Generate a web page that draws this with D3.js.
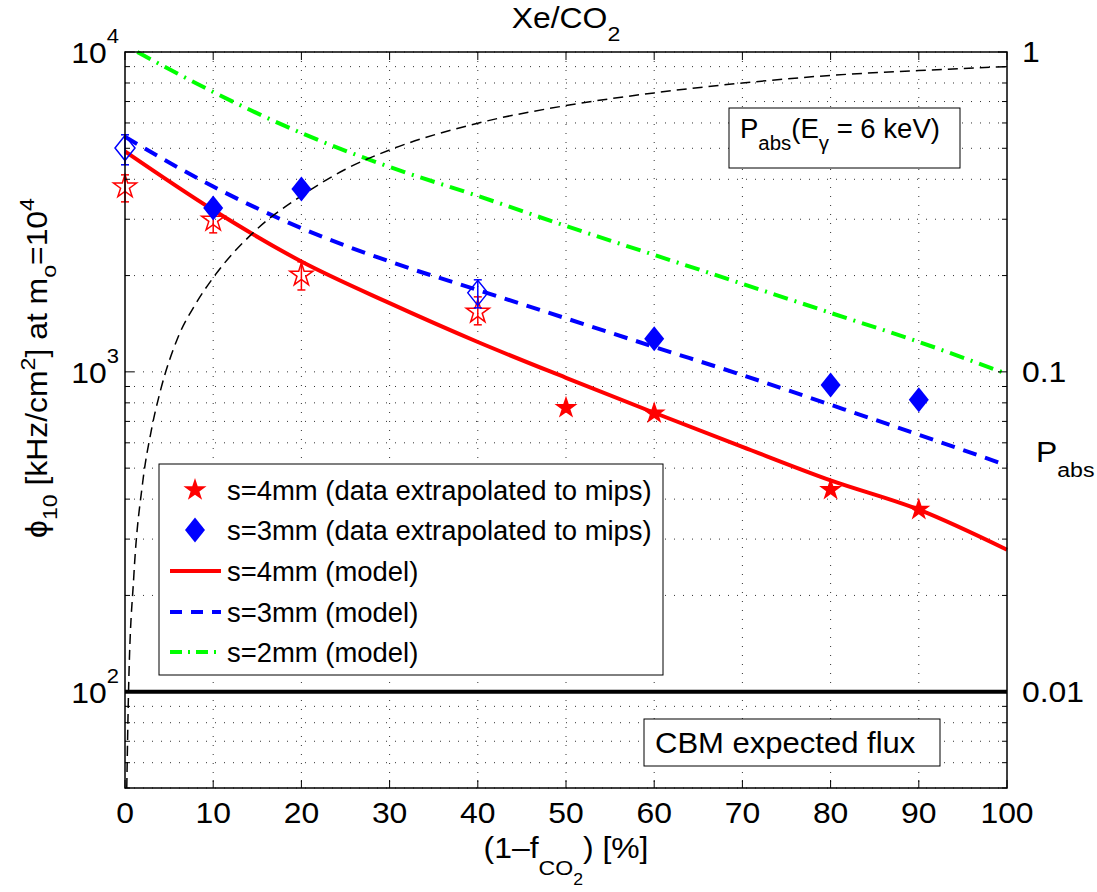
<!DOCTYPE html>
<html>
<head>
<meta charset="utf-8">
<script src="https://cdn.jsdelivr.net/npm/d3@7"></script>
<style>
  body { margin: 0; background: #fff; }
  text { font-family: "Liberation Sans", Arial, Helvetica, sans-serif; fill: #000; }
</style>
</head>
<body>
<svg id="chart" width="1097" height="892"></svg>
<script>
// ---- data ----
var xTicks = [0, 10, 20, 30, 40, 50, 60, 70, 80, 90, 100];
var yMajor = [100, 1000, 10000];
var pMajor = [0.01, 0.1, 1];

// model curves, x in % of Xe
var modelX = [0, 10, 20, 30, 40, 50, 60, 70, 80, 90, 100];
var model4mm = [4890, 3206, 2213, 1640, 1240, 958, 745, 583, 458, 371, 278];
var model3mm = [5430, 3795, 2813, 2213, 1803, 1470, 1197, 977, 789, 636, 510];
var model2X = [1.4, 10, 20, 30, 40, 50, 60, 70, 80, 90, 100];
var model2mm = [10000, 7500, 5580, 4370, 3548, 2858, 2321, 1885, 1529, 1241, 985];

// absorption probability for 6 keV photons (right axis)
var pabsX = [0.2, 0.4, 1, 2, 3, 4, 6, 8, 10, 15, 20, 25, 30, 40, 50, 60, 70, 80, 90, 100];
var pabsY = [0.005, 0.01, 0.023, 0.045, 0.066, 0.087, 0.128, 0.163, 0.197, 0.28, 0.355, 0.43, 0.494, 0.599, 0.68, 0.745, 0.80, 0.845, 0.875, 0.90];

// CBM expected flux
var cbmFlux = 100;

// s=4mm data (filled stars) and measured points with error bars (open stars)
var star4X = [50, 60, 80, 90];
var star4Y = [772, 742, 428, 371];
var open4X = [0, 10, 20, 40];
var open4Y = [3790, 2985, 2010, 1540];
var open4Lo = [3400, 2720, 1803, 1403];
var open4Hi = [4130, 3304, 2208, 1716];

// s=3mm data (filled diamonds) and measured points (open diamonds)
var dia3X = [10, 20, 60, 80, 90];
var dia3Y = [3254, 3733, 1268, 910, 818];
var open3X = [0, 40];
var open3Y = [5010, 1766];
var open3Lo = [4440, 1585];
var open3Hi = [5510, 1940];

var legendLabels = [
  "s=4mm (data extrapolated to mips)",
  "s=3mm (data extrapolated to mips)",
  "s=4mm (model)",
  "s=3mm (model)",
  "s=2mm (model)"
];

// ---- layout ----
var pLeft = 125, pRight = 1007, pTop = 52, pBottom = 788;
var svg = d3.select("#chart");

var x = d3.scaleLinear().domain([0, 100]).range([pLeft, pRight]);
var y = d3.scaleLog().domain([50, 10000]).range([pBottom, pTop]);
var yR = d3.scaleLog().domain([0.005, 1]).range([pBottom, pTop]);

var RED = "#ff0000", BLUE = "#0000ff", GREEN = "#00ff00";
var FS = 29, SX = 1.1;   // axis text size and horizontal stretch

// every log grid value inside the domain
var yAll = [];
[10, 100, 1000].forEach(function(dec) {
  for (var k = 1; k < 10; k++) {
    var v = dec * k;
    if (v >= 50 && v <= 10000) yAll.push(v);
  }
});
yAll.push(10000);

// text helper: places text at (px,py) stretched horizontally
function label(parent, px, py, anchor, size, sx, rot) {
  var tr = "translate(" + px + "," + py + ")" + (rot ? " rotate(" + rot + ")" : "") + " scale(" + sx + ",1)";
  return parent.append("text").attr("transform", tr)
    .attr("text-anchor", anchor).attr("font-size", size);
}

// ---- grid ----
var grid = svg.append("g");
grid.selectAll(".hg").data(yAll).enter().append("line")
  .attr("x1", pLeft).attr("x2", pRight)
  .attr("y1", function(d) { return y(d); })
  .attr("y2", function(d) { return y(d); })
  .attr("stroke", "#333").attr("stroke-width", 1)
  .attr("stroke-dasharray", "1,8");
grid.selectAll(".vg").data(xTicks.slice(1, -1)).enter().append("line")
  .attr("x1", function(d) { return x(d); })
  .attr("x2", function(d) { return x(d); })
  .attr("y1", pTop).attr("y2", pBottom)
  .attr("stroke", "#333").attr("stroke-width", 1)
  .attr("stroke-dasharray", "1,8");

// ---- model lines ----
function lineOf(xs, ys, sy) {
  return d3.line()
    .x(function(d, i) { return x(xs[i]); })
    .y(function(d) { return sy(d); })
    .curve(d3.curveMonotoneX)(ys);
}
svg.append("path").attr("d", lineOf(model2X, model2mm, y))
  .attr("fill", "none").attr("stroke", GREEN).attr("stroke-width", 4)
  .attr("stroke-dasharray", "15,7,2,7");
svg.append("path").attr("d", lineOf(modelX, model3mm, y))
  .attr("fill", "none").attr("stroke", BLUE).attr("stroke-width", 4)
  .attr("stroke-dasharray", "14,9");
svg.append("path").attr("d", lineOf(modelX, model4mm, y))
  .attr("fill", "none").attr("stroke", RED).attr("stroke-width", 4);

// absorption probability
svg.append("path").attr("d", lineOf(pabsX, pabsY, yR))
  .attr("fill", "none").attr("stroke", "#000").attr("stroke-width", 1.5)
  .attr("stroke-dasharray", "10,6");

// CBM flux line
svg.append("line")
  .attr("x1", pLeft).attr("x2", pRight)
  .attr("y1", y(cbmFlux)).attr("y2", y(cbmFlux))
  .attr("stroke", "#000").attr("stroke-width", 4);

// ---- markers ----
var diamondType = {
  draw: function(ctx, size) {
    var h = Math.sqrt(size / 1.6), w = h * 0.8;
    ctx.moveTo(0, -h); ctx.lineTo(w, 0); ctx.lineTo(0, h); ctx.lineTo(-w, 0); ctx.closePath();
  }
};
var starSym = d3.symbol().type(d3.symbolStar).size(165);
var diaSym = d3.symbol().type(diamondType).size(250);

function errorBars(xs, lo, hi, color) {
  var g = svg.append("g").attr("stroke", color).attr("stroke-width", 1.5);
  xs.forEach(function(xv, i) {
    var cx = x(xv);
    g.append("line").attr("x1", cx).attr("x2", cx).attr("y1", y(lo[i])).attr("y2", y(hi[i]));
    g.append("line").attr("x1", cx - 4).attr("x2", cx + 4).attr("y1", y(lo[i])).attr("y2", y(lo[i]));
    g.append("line").attr("x1", cx - 4).attr("x2", cx + 4).attr("y1", y(hi[i])).attr("y2", y(hi[i]));
  });
}

svg.selectAll(".ostar").data(open4Y).enter().append("path")
  .attr("d", starSym)
  .attr("transform", function(d, i) { return "translate(" + x(open4X[i]) + "," + y(d) + ")"; })
  .attr("fill", "none").attr("stroke", RED).attr("stroke-width", 1.5);
errorBars(open4X, open4Lo, open4Hi, RED);

svg.selectAll(".odia").data(open3Y).enter().append("path")
  .attr("d", diaSym)
  .attr("transform", function(d, i) { return "translate(" + x(open3X[i]) + "," + y(d) + ")"; })
  .attr("fill", "none").attr("stroke", BLUE).attr("stroke-width", 1.5);
errorBars(open3X, open3Lo, open3Hi, BLUE);

svg.selectAll(".fdia").data(dia3Y).enter().append("path")
  .attr("d", diaSym)
  .attr("transform", function(d, i) { return "translate(" + x(dia3X[i]) + "," + y(d) + ")"; })
  .attr("fill", BLUE);

svg.selectAll(".fstar").data(star4Y).enter().append("path")
  .attr("d", starSym)
  .attr("transform", function(d, i) { return "translate(" + x(star4X[i]) + "," + y(d) + ")"; })
  .attr("fill", RED);

// ---- axes (box, inward ticks) ----
var ax = svg.append("g").attr("stroke", "#000");
ax.append("rect").attr("x", pLeft).attr("y", pTop)
  .attr("width", pRight - pLeft).attr("height", pBottom - pTop)
  .attr("fill", "none").attr("stroke-width", 1.5);

xTicks.forEach(function(t) {
  ax.append("line").attr("x1", x(t)).attr("x2", x(t)).attr("y1", pBottom).attr("y2", pBottom - 8);
  ax.append("line").attr("x1", x(t)).attr("x2", x(t)).attr("y1", pTop).attr("y2", pTop + 8);
});
yAll.forEach(function(v) {
  var len = yMajor.indexOf(v) >= 0 ? 9 : 5;
  ax.append("line").attr("x1", pLeft).attr("x2", pLeft + len).attr("y1", y(v)).attr("y2", y(v));
  ax.append("line").attr("x1", pRight).attr("x2", pRight - len).attr("y1", y(v)).attr("y2", y(v));
});

xTicks.forEach(function(t) {
  label(svg, x(t), 823, "middle", FS, SX).text(t);
});

yMajor.forEach(function(v, i) {
  var t = label(svg, 119, y(v) + 11, "end", FS, SX);
  t.append("tspan").text("10");
  t.append("tspan").attr("dy", -20).attr("font-size", 20).text(String(2 + i));
});

pMajor.forEach(function(v) {
  label(svg, 1022, yR(v) + 10, "start", FS, SX).text(String(v));
});

// title
var title = label(svg, 566, 28, "middle", FS, SX);
title.append("tspan").text("Xe/CO");
title.append("tspan").attr("dy", 13).attr("font-size", 21).text("2");

// x label
var xl = label(svg, 566, 858, "middle", FS, SX);
xl.append("tspan").text("(1\u2013f");
xl.append("tspan").attr("dy", 17).attr("font-size", 21).text("CO");
xl.append("tspan").attr("dy", 10).attr("font-size", 16).text("2");
xl.append("tspan").attr("dy", -27).text(") [%]");

// y label
var yl = label(svg, 47, 368, "middle", FS, SX, -90);
yl.append("tspan").text("\u03d5");
yl.append("tspan").attr("dy", 10).attr("font-size", 21).text("10");
yl.append("tspan").attr("dy", -10).text(" [kHz/cm");
yl.append("tspan").attr("dy", -12).attr("font-size", 21).text("2");
yl.append("tspan").attr("dy", 12).text("] at m");
yl.append("tspan").attr("dy", 9).attr("font-size", 21).text("o");
yl.append("tspan").attr("dy", -9).text("=10");
yl.append("tspan").attr("dy", -13).attr("font-size", 21).text("4");

// right label
var rl = label(svg, 1036, 462, "start", FS, SX);
rl.append("tspan").text("P");
rl.append("tspan").attr("dy", 15).attr("font-size", 21).text("abs");

// ---- legend ----
var lg = svg.append("g");
lg.append("rect").attr("x", 159).attr("y", 464).attr("width", 504).attr("height", 211)
  .attr("fill", "#fff").attr("stroke", "#000").attr("stroke-width", 1);
var rowY = [490, 530, 571, 612, 652];
legendLabels.forEach(function(d, i) {
  label(lg, 227, rowY[i] + 10, "start", 28, 0.98).text(d);
});
lg.append("path").attr("d", starSym).attr("transform", "translate(195," + rowY[0] + ")").attr("fill", RED);
lg.append("path").attr("d", diaSym).attr("transform", "translate(195," + rowY[1] + ")").attr("fill", BLUE);
lg.append("line").attr("x1", 170).attr("x2", 221).attr("y1", rowY[2]).attr("y2", rowY[2])
  .attr("stroke", RED).attr("stroke-width", 4);
lg.append("line").attr("x1", 170).attr("x2", 221).attr("y1", rowY[3]).attr("y2", rowY[3])
  .attr("stroke", BLUE).attr("stroke-width", 4).attr("stroke-dasharray", "12,9");
lg.append("line").attr("x1", 170).attr("x2", 221).attr("y1", rowY[4]).attr("y2", rowY[4])
  .attr("stroke", GREEN).attr("stroke-width", 4).attr("stroke-dasharray", "12,6,2,6");

// ---- annotation boxes ----
svg.append("rect").attr("x", 729).attr("y", 108).attr("width", 231).attr("height", 60)
  .attr("fill", "#fff").attr("stroke", "#000").attr("stroke-width", 1);
var pa = label(svg, 740, 138, "start", 27, 1.02);
pa.append("tspan").text("P");
pa.append("tspan").attr("dy", 12).attr("font-size", 20).text("abs");
pa.append("tspan").attr("dy", -12).text("(E");
pa.append("tspan").attr("dy", 12).attr("font-size", 20).text("\u03b3");
pa.append("tspan").attr("dy", -12).text(" = 6 keV)");

svg.append("rect").attr("x", 644).attr("y", 719).attr("width", 296).attr("height", 47)
  .attr("fill", "#fff").attr("stroke", "#000").attr("stroke-width", 1);
label(svg, 655, 753, "start", 29, 1.07).text("CBM expected flux");
</script>
</body>
</html>
